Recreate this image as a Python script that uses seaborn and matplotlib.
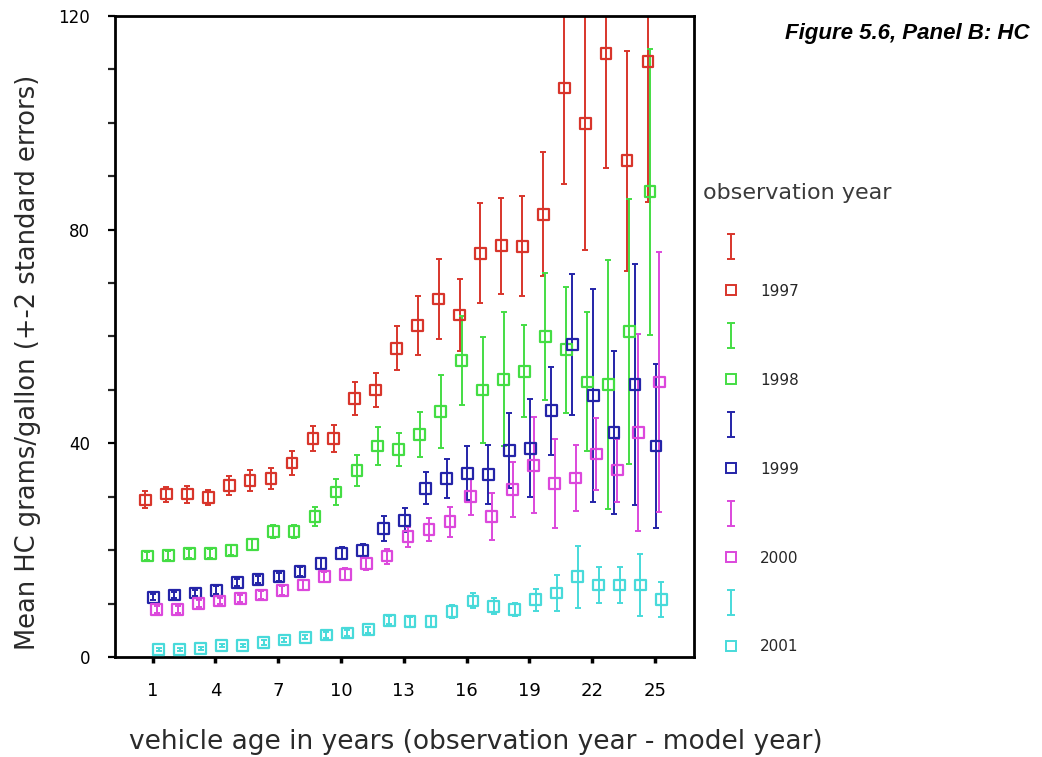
import numpy as np
import pandas as pd
import matplotlib
matplotlib.use("Agg")
import matplotlib.pyplot as plt
from matplotlib.lines import Line2D
from matplotlib.path import Path
import seaborn as sns

# Vehicle age (years) and observation years
ages = list(range(1, 26))
obs_years = ["1997", "1998", "1999", "2000", "2001"]

# Mean HC grams/gallon by vehicle age, one list per observation year
hc_1997 = [29.4, 30.5, 30.5, 29.9, 32.1, 33.0, 33.4, 36.3, 40.9, 40.9, 48.4, 50.0, 57.8,
           62.1, 67.0, 64.0, 75.6, 77.0, 76.9, 82.9, 106.5, 99.8, 113.0, 92.9, 111.5]
hc_1998 = [18.9, 19.0, 19.4, 19.4, 20.0, 21.0, 23.5, 23.5, 26.3, 30.9, 34.9, 39.5, 38.9,
           41.6, 45.9, 55.5, 50.0, 52.0, 53.5, 60.0, 57.5, 51.5, 51.0, 61.0, 87.1]
hc_1999 = [11.2, 11.6, 12.0, 12.5, 13.9, 14.5, 15.0, 16.0, 17.5, 19.4, 20.0, 24.1, 25.6,
           31.6, 33.4, 34.4, 34.1, 38.6, 39.1, 46.1, 58.5, 49.0, 42.0, 51.0, 39.5]
hc_2000 = [8.9, 8.9, 10.0, 10.5, 11.0, 11.6, 12.5, 13.5, 15.0, 15.5, 17.5, 18.9, 22.5,
           23.9, 25.3, 30.0, 26.3, 31.4, 35.9, 32.5, 33.5, 38.0, 35.0, 42.0, 51.5]
hc_2001 = [1.4, 1.4, 1.6, 2.2, 2.1, 2.7, 3.2, 3.7, 4.1, 4.5, 5.1, 6.9, 6.6,
           6.6, 8.5, 10.5, 9.5, 8.9, 10.7, 12.0, 15.0, 13.5, 13.5, 13.5, 10.7]

# Two standard errors around each mean
se2_1997 = [1.6, 1.4, 1.6, 1.4, 1.7, 2.0, 2.0, 2.2, 2.3, 2.6, 3.1, 3.2, 4.1,
            5.5, 7.5, 6.7, 9.4, 9.0, 9.4, 11.6, 18.0, 23.6, 21.5, 20.6, 26.4]
se2_1998 = [0.8, 0.8, 0.8, 0.8, 0.9, 1.0, 1.2, 1.3, 1.7, 2.5, 2.9, 3.6, 3.1,
            4.2, 6.8, 8.4, 9.9, 12.5, 8.6, 11.9, 11.8, 13.0, 23.3, 24.8, 26.8]
se2_1999 = [0.6, 0.6, 0.6, 0.7, 0.7, 0.7, 0.8, 0.8, 1.0, 1.1, 1.2, 2.3, 2.2,
            3.0, 3.6, 5.1, 5.5, 7.0, 9.2, 8.2, 13.2, 19.9, 15.2, 22.6, 15.4]
se2_2000 = [0.6, 0.6, 0.6, 0.6, 0.7, 0.7, 0.8, 0.9, 1.0, 1.1, 1.3, 1.4, 1.9,
            2.1, 2.8, 3.4, 4.4, 5.1, 9.0, 8.3, 6.1, 6.8, 5.9, 18.5, 24.4]
se2_2001 = [0.3, 0.3, 0.3, 0.3, 0.3, 0.4, 0.4, 0.4, 0.5, 0.5, 0.6, 0.8, 0.9,
            1.0, 1.2, 1.4, 1.5, 1.3, 2.0, 3.3, 5.8, 3.4, 3.3, 5.8, 3.3]

means = [hc_1997, hc_1998, hc_1999, hc_2000, hc_2001]
errors = [se2_1997, se2_1998, se2_1999, se2_2000, se2_2001]
dodge = [-0.34, -0.24, 0.04, 0.2, 0.3]

palette = {"1997": "#d8352b", "1998": "#44dd44", "1999": "#2424a8",
           "2000": "#dc48dc", "2001": "#48dada"}

rows = []
for yr, m_list, e_list, off in zip(obs_years, means, errors, dodge):
    for a, m, e in zip(ages, m_list, e_list):
        rows.append({"age": a, "year": yr, "hc": m, "err": e, "pos": a + off})
df = pd.DataFrame(rows)

sns.set_theme(style="ticks")
plt.rcParams["font.family"] = ["DejaVu Sans"]

fig = plt.figure(figsize=(10.42, 7.57), dpi=100)
ax = fig.add_axes([0.1104, 0.1321, 0.5557, 0.8468])

# Error bars first, hollow squares on top
for yr in obs_years:
    d = df[df["year"] == yr]
    ax.errorbar(d["pos"], d["hc"], yerr=d["err"], fmt="none", ecolor=palette[yr],
                elinewidth=1.4, capsize=2.5, capthick=1.4, zorder=2)

sns.scatterplot(data=df, x="pos", y="hc", hue="year", palette=palette, marker="s",
                s=60, linewidth=1.6, legend=False, ax=ax, zorder=3)
pts = ax.collections[-1]
pts.set_edgecolors(pts.get_facecolors())
pts.set_facecolors("none")

ax.set_xlim(-0.79, 26.86)
ax.set_ylim(0, 120)
ax.set_xticks(list(range(1, 26, 3)))
ax.set_yticks([0, 40, 80, 120])
ax.set_yticks(list(range(10, 120, 10)), minor=True)
for s in ax.spines.values():
    s.set_linewidth(2.0)
    s.set_color("black")
    s.set_visible(True)
ax.tick_params(axis="x", direction="out", length=4, width=2.5, pad=14, labelsize=13,
               colors="black")
ax.tick_params(axis="y", which="major", direction="out", length=5, width=1.6, pad=13,
               labelsize=12, colors="black")
ax.tick_params(axis="y", which="minor", direction="out", length=5, width=1.6)

ax.set_xlabel("vehicle age in years (observation year - model year)", fontsize=19,
              color="#2a2a2a", va="center")
ax.xaxis.set_label_coords(0.623, -0.1326)
ax.set_ylabel("Mean HC grams/gallon (+-2 standard errors)", fontsize=18.5,
              color="#2a2a2a", va="center")
ax.yaxis.set_label_coords(-0.150, 0.46)

# Legend: an error-bar glyph above each hollow square
ibar = Path([(-0.35, -1), (0.35, -1), (0, -1), (0, 1), (-0.35, 1), (0.35, 1)],
            [Path.MOVETO, Path.LINETO, Path.MOVETO, Path.LINETO, Path.MOVETO, Path.LINETO])
handles, labels = [], []
for yr in obs_years:
    c = palette[yr]
    handles.append(Line2D([], [], linestyle="none", marker=ibar, markersize=18,
                          markerfacecolor="none", markeredgecolor=c, markeredgewidth=1.4))
    labels.append(" ")
    handles.append(Line2D([], [], linestyle="none", marker="s", markersize=6.5,
                          markerfacecolor="none", markeredgecolor=c, markeredgewidth=1.4))
    labels.append(yr)

fig.legend(handles, labels, loc="upper left", bbox_to_anchor=(717 / 1042, 1 - 233 / 757),
           frameon=False, fontsize=11, labelspacing=1.93, handlelength=1.0,
           handletextpad=1.42, borderaxespad=0)
fig.text(703 / 1042, 1 - 193 / 757, "observation year", ha="left", va="center",
         fontsize=16, color="#3a3a3a")

fig.text(1030 / 1042, 1 - 33 / 757, "Figure 5.6, Panel B: HC", ha="right", va="center",
         fontsize=16, fontweight="bold", fontstyle="italic", family="Liberation Sans",
         color="black")

fig.savefig("out.png", dpi=100, facecolor="white")
